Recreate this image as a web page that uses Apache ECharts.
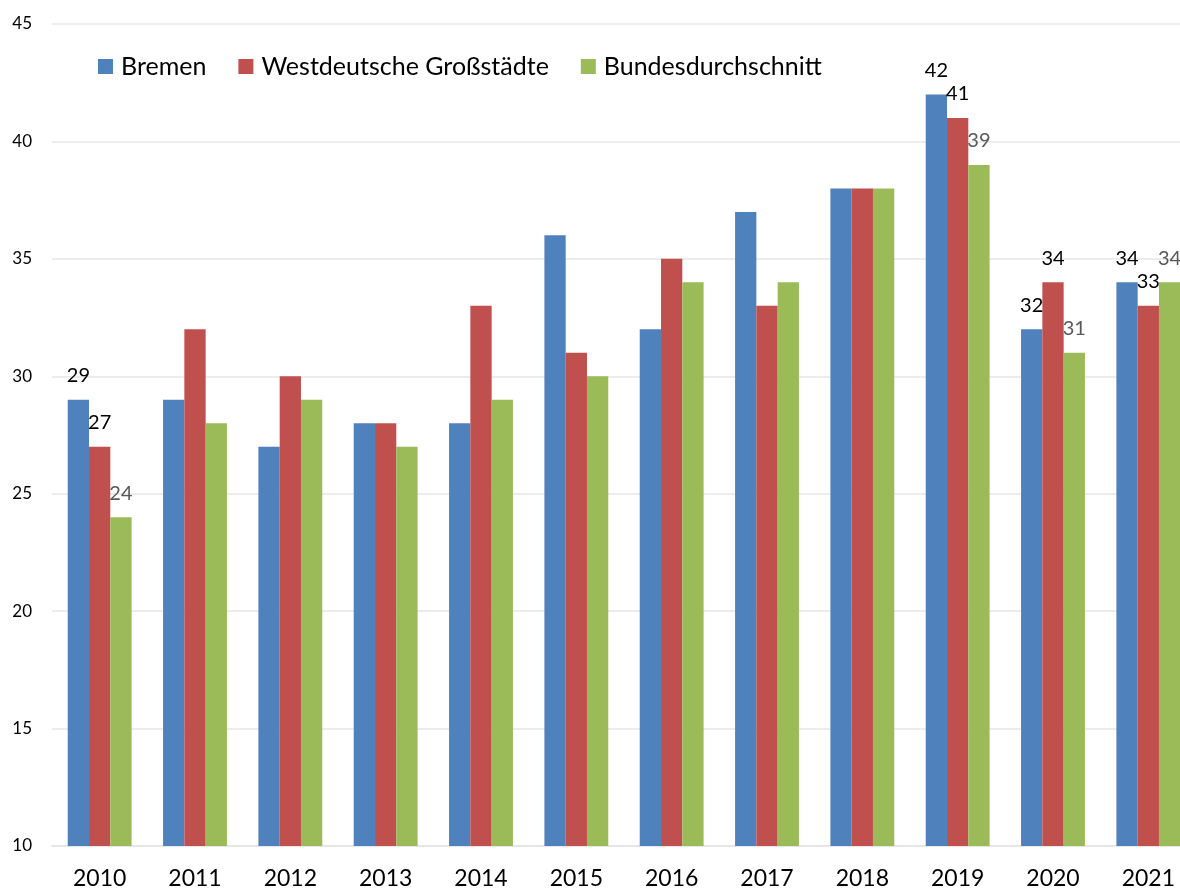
<!DOCTYPE html>
<html>
<head>
<meta charset="utf-8">
<script src="https://cdn.jsdelivr.net/npm/echarts@6/dist/echarts.min.js"></script>
<style>
  html, body { margin: 0; padding: 0; overflow: hidden; background: #fff; }
  #chart { width: 1200px; height: 890px; }
</style>
</head>
<body>
<div id="chart"></div>
<script>
const years = ['2010', '2011', '2012', '2013', '2014', '2015', '2016', '2017', '2018', '2019', '2020', '2021'];
const bremen = [29, 29, 27, 28, 28, 36, 32, 37, 38, 42, 32, 34];
const westGross = [27, 32, 30, 28, 33, 31, 35, 33, 38, 41, 34, 33];
const bund = [24, 28, 29, 27, 29, 30, 34, 34, 38, 39, 31, 34];
const labelledYears = ['2010', '2019', '2020', '2021'];

const font = 'Lato, "Open Sans", sans-serif';

function withLabels(values, color) {
  return values.map((v, i) => ({
    value: v,
    label: { show: labelledYears.indexOf(years[i]) >= 0, color: color }
  }));
}

function series(name, values, color, labelColor) {
  return {
    name: name,
    type: 'bar',
    data: withLabels(values, labelColor),
    itemStyle: { color: color },
    barGap: '0%',
    barCategoryGap: '33%',
    label: {
      position: 'top',
      distance: 14,
      fontSize: 20,
      fontFamily: font
    }
  };
}

const chart = echarts.init(document.getElementById('chart'));
chart.setOption({
  animation: false,
  textStyle: { fontFamily: font },
  legend: {
    left: 93,
    top: 49,
    itemWidth: 15,
    itemHeight: 15,
    itemGap: 32,
    icon: 'rect',
    textStyle: { fontSize: 25, color: '#000', fontFamily: font, padding: [0, 0, 0, 3] }
  },
  grid: { left: 52, right: 4, top: 24, bottom: 41 },
  xAxis: {
    type: 'category',
    data: years,
    axisLine: { lineStyle: { color: '#e6e6e6', width: 2 } },
    axisTick: { show: false },
    axisLabel: { fontSize: 23, color: '#000', margin: 21 }
  },
  yAxis: {
    type: 'value',
    min: 10,
    max: 45,
    interval: 5,
    axisLine: { show: false },
    axisTick: { show: false },
    splitLine: { lineStyle: { color: '#ececec', width: 2 } },
    axisLabel: { fontSize: 17, color: '#000', margin: 20 }
  },
  series: [
    series('Bremen', bremen, '#4F81BD', '#000'),
    series('Westdeutsche Großstädte', westGross, '#C0504D', '#000'),
    series('Bundesdurchschnitt', bund, '#9BBB59', '#595959')
  ]
});
</script>
</body>
</html>
